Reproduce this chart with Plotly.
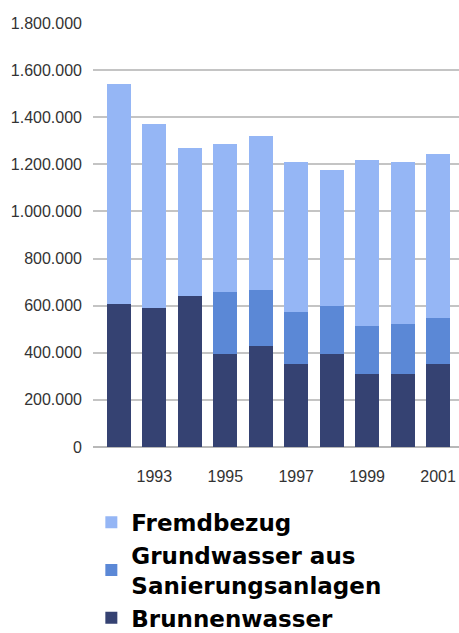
import plotly.graph_objects as go

years = [1992, 1993, 1994, 1995, 1996, 1997, 1998, 1999, 2000, 2001]
brunnenwasser = [607000, 590000, 641000, 395000, 429000, 352000, 395000, 310000, 310000, 352000]
grundwasser = [0, 0, 0, 263000, 237000, 221000, 203000, 204000, 212000, 196000]
fremdbezug = [934000, 781000, 628000, 628000, 654000, 637000, 578000, 704000, 688000, 696000]
x_ticks = [1993, 1995, 1997, 1999, 2001]
y_ticks = [0, 200000, 400000, 600000, 800000, 1000000, 1200000, 1400000, 1600000, 1800000]

c_brunnen = "#354272"
c_grund = "#5b88d6"
c_fremd = "#95b6f5"

fig = go.Figure()
fig.add_trace(go.Bar(x=years, y=brunnenwasser, name="Brunnenwasser",
                     marker=dict(color=c_brunnen, line=dict(width=0)), width=0.68))
fig.add_trace(go.Bar(x=years, y=grundwasser, name="Grundwasser aus<br>Sanierungsanlagen",
                     marker=dict(color=c_grund, line=dict(width=0)), width=0.68))
fig.add_trace(go.Bar(x=years, y=fremdbezug, name="Fremdbezug",
                     marker=dict(color=c_fremd, line=dict(width=0)), width=0.68))

fig.update_layout(
    width=459, height=633,
    barmode="stack",
    separators=",.",
    paper_bgcolor="white", plot_bgcolor="white",
    margin=dict(l=93, r=0, t=23, b=186, autoexpand=False),
    font=dict(family="Liberation Sans, Arial, sans-serif", size=16, color="#333333"),
    xaxis=dict(range=[1991.27, 2001.59], tickmode="array", tickvals=x_ticks,
               ticktext=[str(v) for v in x_ticks], showgrid=False, showline=False,
               zeroline=False, ticks="", ticklabelstandoff=18, tickangle=0,
               automargin=False,
               tickfont=dict(size=16, color="#333333")),
    yaxis=dict(range=[0, 1800000], tickmode="array", tickvals=y_ticks,
               tickformat=",d", showgrid=True, gridcolor="#c4c4c4", gridwidth=1.5,
               zeroline=True, zerolinecolor="#b8b8b8", zerolinewidth=1.5,
               showline=False, ticks="", ticklabelstandoff=10, automargin=False,
               tickfont=dict(size=16, color="#333333")),
    legend=dict(orientation="v", traceorder="reversed",
                xref="container", yref="container",
                x=0.199, xanchor="left", y=0.209, yanchor="top",
                font=dict(family="DejaVu Sans", size=23, color="#000000", weight="bold"),
                bgcolor="rgba(0,0,0,0)", tracegroupgap=0, itemwidth=30),
    showlegend=True,
)

fig.write_html("out.html",
               config={"displayModeBar": False},
               post_script="document.body.style.margin='0';document.body.style.overflow='hidden';")
